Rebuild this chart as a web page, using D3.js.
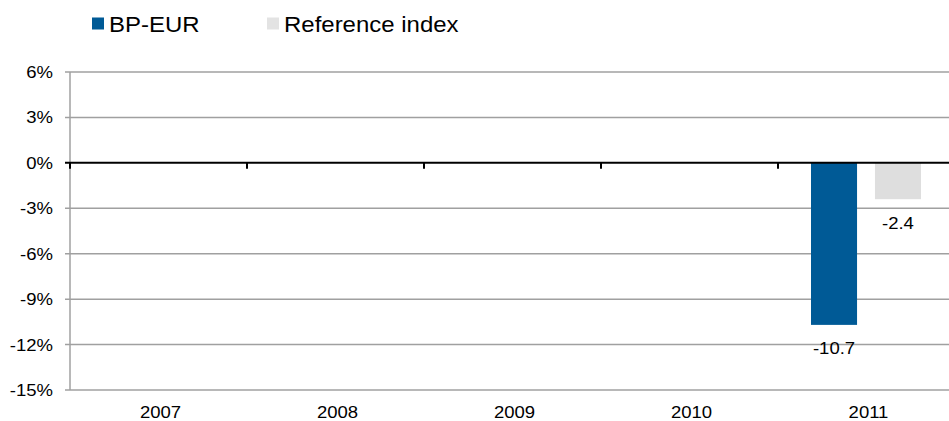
<!DOCTYPE html>
<html>
<head>
<meta charset="utf-8">
<script src="https://cdn.jsdelivr.net/npm/d3@7"></script>
<style>
  html, body { margin: 0; padding: 0; background: #fff; }
  svg { display: block; font-family: "Liberation Sans", Arial, sans-serif; }
</style>
</head>
<body>
<svg id="chart" width="949" height="421"></svg>
<script>
// chart data
const years = ['2007', '2008', '2009', '2010', '2011'];
const seriesNames = ['BP-EUR', 'Reference index'];
const bpEur = [null, null, null, null, -10.7];
const refIndex = [null, null, null, null, -2.4];
const yTicks = [6, 3, 0, -3, -6, -9, -12, -15];
const colors = ['#005a96', '#dedede'];

const svg = d3.select('#chart');
const m = { left: 70, right: 955, top: 72, bottom: 390 };

const x = d3.scaleBand().domain(years).range([m.left, m.right]);
const xs = d3.scaleBand().domain(seriesNames).range([33, x.bandwidth() - 34]).paddingInner(0.28);
const y = d3.scaleLinear().domain([-15, 6]).range([m.bottom, m.top]);

// the source text is wider than the font, stretch it a bit
const stretch = 1.09;
function label(g, tx, ty, size, anchor, str) {
  return g.append('text')
    .attr('transform', `translate(${tx},${ty}) scale(${stretch},1)`)
    .attr('text-anchor', anchor)
    .attr('font-size', size).attr('fill', '#000')
    .text(str);
}

// gridlines
svg.append('g')
  .selectAll('line')
  .data(yTicks.filter(d => d !== 0))
  .join('line')
  .attr('x1', m.left - 5).attr('x2', m.right)
  .attr('y1', d => y(d)).attr('y2', d => y(d))
  .attr('stroke', '#a0a0a0').attr('stroke-width', 1.5);

// left axis line
svg.append('line')
  .attr('x1', m.left).attr('x2', m.left)
  .attr('y1', m.top).attr('y2', m.bottom)
  .attr('stroke', '#a0a0a0').attr('stroke-width', 1.5);

// y tick labels
const gy = svg.append('g');
yTicks.forEach(d => label(gy, 53, y(d) + 6, 17, 'end', d + '%'));

// bars
const series = [bpEur, refIndex];
series.forEach((vals, si) => {
  const g = svg.append('g');
  const rows = years.map((yr, i) => ({ yr, v: vals[i] })).filter(d => d.v !== null);
  g.selectAll('rect')
    .data(rows)
    .join('rect')
    .attr('x', d => x(d.yr) + xs(seriesNames[si]))
    .attr('width', xs.bandwidth())
    .attr('y', d => y(Math.max(0, d.v)))
    .attr('height', d => Math.abs(y(d.v) - y(0)))
    .attr('fill', colors[si]);
  rows.forEach(d => {
    label(g, x(d.yr) + xs(seriesNames[si]) + xs.bandwidth() / 2, y(d.v) + 29.5, 17, 'middle', d.v.toFixed(1));
  });
});

// zero line + category ticks
svg.append('line')
  .attr('x1', m.left - 5).attr('x2', m.right)
  .attr('y1', y(0)).attr('y2', y(0))
  .attr('stroke', '#000').attr('stroke-width', 2);
svg.append('g')
  .selectAll('line')
  .data(years)
  .join('line')
  .attr('x1', d => x(d)).attr('x2', d => x(d))
  .attr('y1', y(0)).attr('y2', y(0) + 6)
  .attr('stroke', '#000').attr('stroke-width', 2);

// year labels
const gx = svg.append('g');
years.forEach(d => label(gx, x(d) + x.bandwidth() / 2 + 2, 418, 17, 'middle', d));

// legend
const legendX = [92, 267];
const lg = svg.append('g');
seriesNames.forEach((name, i) => {
  lg.append('rect')
    .attr('x', legendX[i]).attr('y', 17.5)
    .attr('width', 12).attr('height', 12)
    .attr('fill', i === 0 ? colors[0] : '#e3e3e3');
  label(lg, legendX[i] + 17, 31.5, 22, 'start', name);
});
</script>
</body>
</html>
